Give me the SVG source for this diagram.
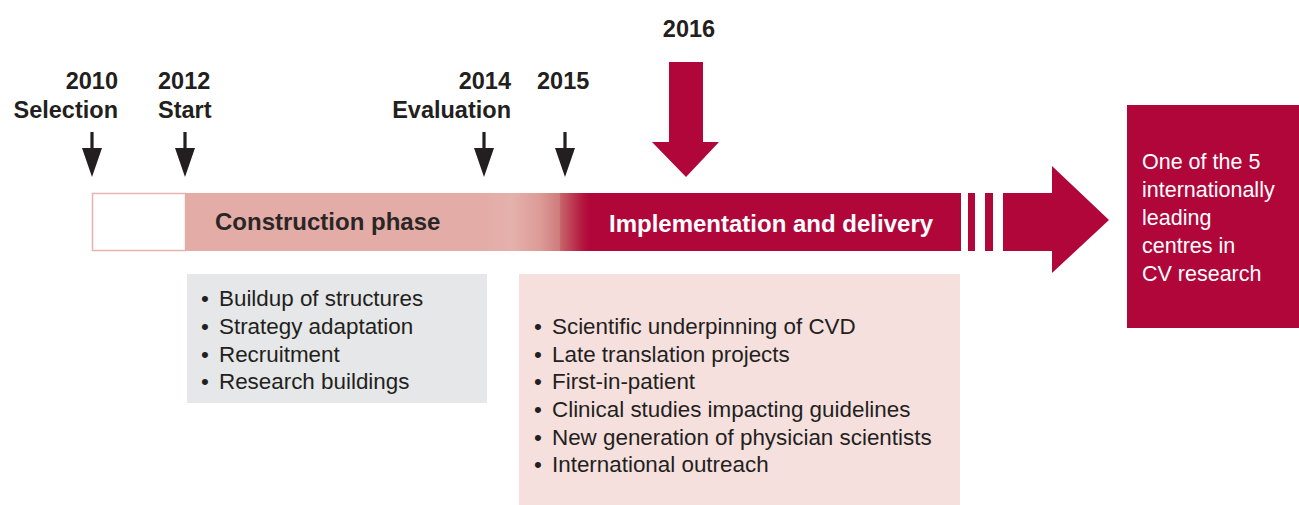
<svg xmlns="http://www.w3.org/2000/svg" width="1299" height="505" viewBox="0 0 1299 505">
<style>
.yr{font-family:"Liberation Sans",Arial,sans-serif;font-weight:bold;font-size:23.5px;fill:#231f20}
.ph{font-family:"Liberation Sans",Arial,sans-serif;font-weight:bold;font-size:24px}
.bl{font-family:"Liberation Sans",Arial,sans-serif;font-size:22.4px;fill:#231f20}
.gl{font-family:"Liberation Sans",Arial,sans-serif;font-size:21.5px;fill:#ffffff}
.red{fill:#b0063a}
.blk{fill:#231f20}
</style>
<defs>
<linearGradient id="fade" x1="485" y1="0" x2="590" y2="0" gradientUnits="userSpaceOnUse">
<stop offset="0" stop-color="#e3aca7"/>
<stop offset="0.25" stop-color="#e5b1ac"/>
<stop offset="0.52" stop-color="#dc9c98"/>
<stop offset="0.71" stop-color="#cf7b7c"/>
<stop offset="0.72" stop-color="#c76369"/>
<stop offset="0.93" stop-color="#b3163f"/>
<stop offset="1" stop-color="#b0063a"/>
</linearGradient>
<path id="sarrow" d="M-1.6,-45 H1.6 V-29 H10 L0,0 L-10,-29 H-1.6 Z"/>
</defs>
<g id="timeline">
<rect x="92.5" y="193.5" width="93" height="57" fill="#ffffff" stroke="#e8b3ae" stroke-width="1.5"/>
<rect x="185" y="193" width="300" height="58" fill="#e3aca7"/>
<rect x="485" y="193" width="106" height="58" fill="url(#fade)"/>
<rect x="590" y="193" width="371" height="58" class="red"/>
<rect x="968" y="193" width="7" height="58" class="red"/>
<rect x="985" y="193" width="8" height="58" class="red"/>
<path d="M1003,193 H1052 V166 L1109,220 L1052,273 V251 H1003 Z" class="red"/>
<text x="215" y="230" class="ph" fill="#2b2626">Construction phase</text>
<text x="609" y="232" class="ph" fill="#ffffff">Implementation and delivery</text>
</g>
<g id="m2010">
<text x="118" y="89" class="yr" text-anchor="end">2010</text>
<text x="118" y="118" class="yr" text-anchor="end">Selection</text>
<use href="#sarrow" x="92" y="177" class="blk"/>
</g>
<g id="m2012">
<text x="158" y="89" class="yr">2012</text>
<text x="158" y="118" class="yr">Start</text>
<use href="#sarrow" x="185" y="177" class="blk"/>
</g>
<g id="m2014">
<text x="511" y="89" class="yr" text-anchor="end">2014</text>
<text x="511" y="118" class="yr" text-anchor="end">Evaluation</text>
<use href="#sarrow" x="484" y="177" class="blk"/>
</g>
<g id="m2015">
<text x="537" y="89" class="yr">2015</text>
<use href="#sarrow" x="565" y="177" class="blk"/>
</g>
<g id="m2016">
<text x="689" y="37" class="yr" text-anchor="middle">2016</text>
<path d="M669,62 H703 V142 H719 L686,177 L652,142 H669 Z" class="red"/>
</g>
<g id="construction-box">
<rect x="187" y="274" width="300" height="129" fill="#e6e7e8"/>
<text class="bl"><tspan x="201" y="306">•</tspan><tspan x="219" y="306">Buildup of structures</tspan><tspan x="201" y="334">•</tspan><tspan x="219" y="334">Strategy adaptation</tspan><tspan x="201" y="362">•</tspan><tspan x="219" y="362">Recruitment</tspan><tspan x="201" y="389">•</tspan><tspan x="219" y="389">Research buildings</tspan></text>
</g>
<g id="implementation-box">
<rect x="519" y="274" width="441" height="231" fill="#f5e0de"/>
<text class="bl"><tspan x="534" y="334">•</tspan><tspan x="552" y="334">Scientific underpinning of CVD</tspan><tspan x="534" y="362">•</tspan><tspan x="552" y="362">Late translation projects</tspan><tspan x="534" y="389">•</tspan><tspan x="552" y="389">First-in-patient</tspan><tspan x="534" y="417">•</tspan><tspan x="552" y="417">Clinical studies impacting guidelines</tspan><tspan x="534" y="445">•</tspan><tspan x="552" y="445">New generation of physician scientists</tspan><tspan x="534" y="472">•</tspan><tspan x="552" y="472">International outreach</tspan></text>
</g>
<g id="goal">
<rect x="1127" y="105" width="172" height="223" class="red"/>
<text class="gl"><tspan x="1142" y="169">One of the 5</tspan><tspan x="1142" y="197">internationally</tspan><tspan x="1142" y="225">leading</tspan><tspan x="1142" y="253">centres in</tspan><tspan x="1142" y="281">CV research</tspan></text>
</g>
</svg>
